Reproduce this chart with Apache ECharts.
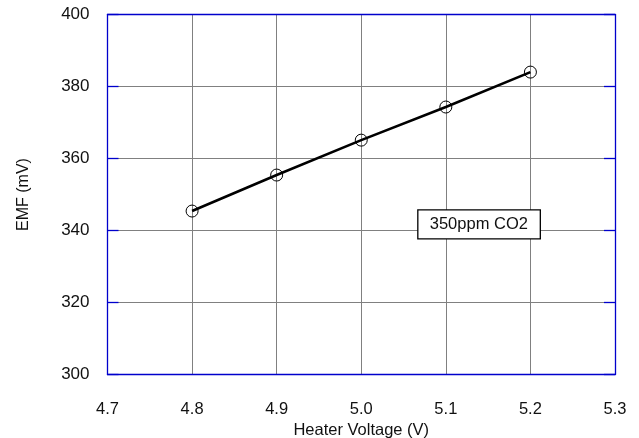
<!DOCTYPE html>
<html>
<head>
<meta charset="utf-8">
<script src="https://cdn.jsdelivr.net/npm/echarts@6/dist/echarts.min.js"></script>
<style>
html,body{margin:0;padding:0;background:#fff;}
#c{width:639px;height:438px;}
</style>
</head>
<body>
<div id="c"></div>
<script>
var heaterVoltage = [4.8, 4.9, 5.0, 5.1, 5.2];
var emf = [345.4, 355.4, 365.1, 374.3, 384.0];
var annotationText = '350ppm CO2';
var annotationPos = [5.139, 341.7];

var FONT = '"Liberation Sans", Arial, sans-serif';
var AXIS_BLUE = '#0000cc';
var TXT = '#111';
var chart = echarts.init(document.getElementById('c'), null, {renderer: 'canvas'});

var pts = heaterVoltage.map(function (v, i) { return [v, emf[i]]; });

chart.setOption({
  animation: false,
  backgroundColor: '#fff',
  grid: {left: 107.5, right: 24, top: 14.5, bottom: 63.5, containLabel: false, outerBoundsMode: 'none'},
  xAxis: [{
    type: 'value', min: 4.7, max: 5.3, interval: 0.1, position: 'bottom',
    name: 'Heater Voltage (V)', nameLocation: 'middle', nameGap: 42,
    nameTextStyle: {fontFamily: FONT, fontSize: 16.5, color: TXT},
    axisLine: {show: true, onZero: false, lineStyle: {color: AXIS_BLUE, width: 1.3}},
    axisTick: {show: false},
    axisLabel: {margin: 26, fontFamily: FONT, fontSize: 16.5, color: TXT,
      formatter: function (v) { return v.toFixed(1); }},
    splitLine: {show: true, lineStyle: {color: '#808080', width: 1}}
  }, {
    type: 'value', min: 4.7, max: 5.3, interval: 0.1, position: 'top',
    axisLine: {show: true, onZero: false, lineStyle: {color: AXIS_BLUE, width: 1.3}},
    axisTick: {show: false}, axisLabel: {show: false}, splitLine: {show: false}
  }],
  yAxis: [{
    type: 'value', min: 300, max: 400, interval: 20, position: 'left',
    name: 'EMF (mV)', nameLocation: 'middle', nameGap: 76, nameRotate: 90,
    nameTextStyle: {fontFamily: FONT, fontSize: 16, color: TXT},
    axisLine: {show: true, onZero: false, lineStyle: {color: AXIS_BLUE, width: 1.3}},
    axisTick: {show: true, inside: true, length: 11, lineStyle: {color: AXIS_BLUE, width: 1.3}},
    axisLabel: {margin: 18, fontFamily: FONT, fontSize: 17, color: TXT},
    splitLine: {show: true, lineStyle: {color: '#808080', width: 1}}
  }, {
    type: 'value', min: 300, max: 400, interval: 20, position: 'right',
    axisLine: {show: true, onZero: false, lineStyle: {color: AXIS_BLUE, width: 1.3}},
    axisTick: {show: true, inside: true, length: 11, lineStyle: {color: AXIS_BLUE, width: 1.3}},
    axisLabel: {show: false}, splitLine: {show: false}
  }],
  series: [{
    type: 'line',
    data: pts,
    xAxisIndex: 0, yAxisIndex: 0,
    lineStyle: {color: '#000', width: 2.6},
    symbol: 'circle', symbolSize: 12, showAllSymbol: true,
    itemStyle: {color: 'rgba(0,0,0,0)', borderColor: '#000', borderWidth: 1},
    emphasis: {disabled: true},
    z: 5
  }]
});

var p = chart.convertToPixel({xAxisIndex: 0, yAxisIndex: 0}, annotationPos);
chart.setOption({
  graphic: [{
    type: 'group', x: p[0], y: p[1], z: 10,
    children: [{
      type: 'rect', shape: {x: -61, y: -14.5, width: 122.5, height: 29},
      style: {fill: '#fff', stroke: '#000', lineWidth: 1.3}
    }, {
      type: 'text', x: 0, y: 0,
      style: {text: annotationText, fontFamily: FONT, fontSize: 16.5, fill: TXT,
        align: 'center', verticalAlign: 'middle'}
    }]
  }]
});
</script>
</body>
</html>
